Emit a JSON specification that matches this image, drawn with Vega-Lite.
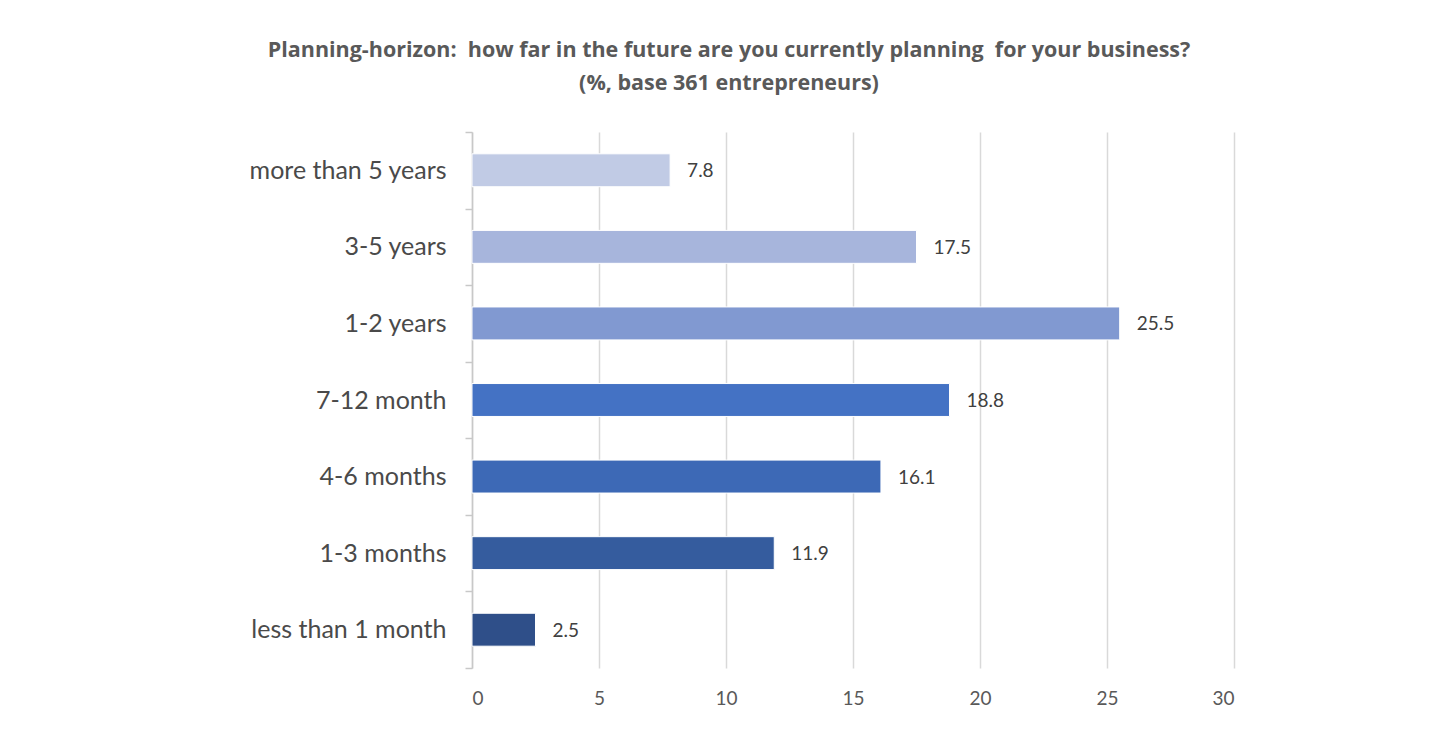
{
  "$schema": "https://vega.github.io/schema/vega-lite/v6.json",
  "width": 762,
  "height": 536,
  "autosize": {"type": "none"},
  "padding": {"left": 472, "top": 132, "right": 199, "bottom": 86},
  "background": "white",
  "config": {"view": {"stroke": null}},
  "title": {
    "text": ["Planning-horizon:\u00a0 how far in the future are you currently planning\u00a0 for your business?", "(%, base 361 entrepreneurs)"],
    "anchor": "middle",
    "dx": -124,
    "offset": 26,
    "font": "Open Sans",
    "fontSize": 21.5,
    "fontWeight": "bold",
    "color": "#595959",
    "lineHeight": 33
  },
  "data": {
    "values": [
      {"horizon": "more than 5 years", "pct": 7.8},
      {"horizon": "3-5 years", "pct": 17.5},
      {"horizon": "1-2 years", "pct": 25.5},
      {"horizon": "7-12 month", "pct": 18.8},
      {"horizon": "4-6 months", "pct": 16.1},
      {"horizon": "1-3 months", "pct": 11.9},
      {"horizon": "less than 1 month", "pct": 2.5}
    ]
  },
  "encoding": {
    "y": {
      "field": "horizon",
      "type": "nominal",
      "sort": null,
      "scale": {"paddingInner": 0, "paddingOuter": 0},
      "axis": {
        "title": null,
        "tickBand": "extent",
        "ticks": true,
        "domain": true,
        "tickSize": 7,
        "tickWidth": 1.5,
        "tickColor": "#c8c8c8",
        "domainColor": "#c8c8c8",
        "domainWidth": 1.5,
        "labelFont": "Lato",
        "labelFontSize": 25,
        "labelLimit": 400,
        "labelColor": "#4a4a4a",
        "labelPadding": 19,
        "grid": false
      }
    },
    "x": {
      "field": "pct",
      "type": "quantitative",
      "scale": {"domain": [0, 30], "nice": false},
      "axis": {
        "title": null,
        "values": [0, 5, 10, 15, 20, 25, 30],
        "grid": true,
        "gridColor": "#d9d9d9",
        "gridWidth": 1.5,
        "domain": false,
        "ticks": false,
        "labelFont": "Lato",
        "labelFontSize": 19,
        "labelColor": "#595959",
        "labelPadding": 21
      }
    }
  },
  "layer": [
    {
      "mark": {"type": "bar", "height": {"band": 0.43}, "stroke": "white", "strokeWidth": 1},
      "encoding": {
        "color": {
          "field": "horizon",
          "type": "nominal",
          "legend": null,
          "scale": {
            "domain": ["more than 5 years", "3-5 years", "1-2 years", "7-12 month", "4-6 months", "1-3 months", "less than 1 month"],
            "range": ["#c1cbe5", "#a7b5dc", "#8199d1", "#4472c4", "#3d69b6", "#355c9e", "#2f4f89"]
          }
        }
      }
    },
    {
      "mark": {"type": "text", "align": "left", "baseline": "middle", "dx": 17, "dy": 1, "font": "Lato", "fontSize": 19, "color": "#404040"},
      "encoding": {
        "text": {"field": "pct", "type": "quantitative", "format": ".1f"}
      }
    }
  ]
}
